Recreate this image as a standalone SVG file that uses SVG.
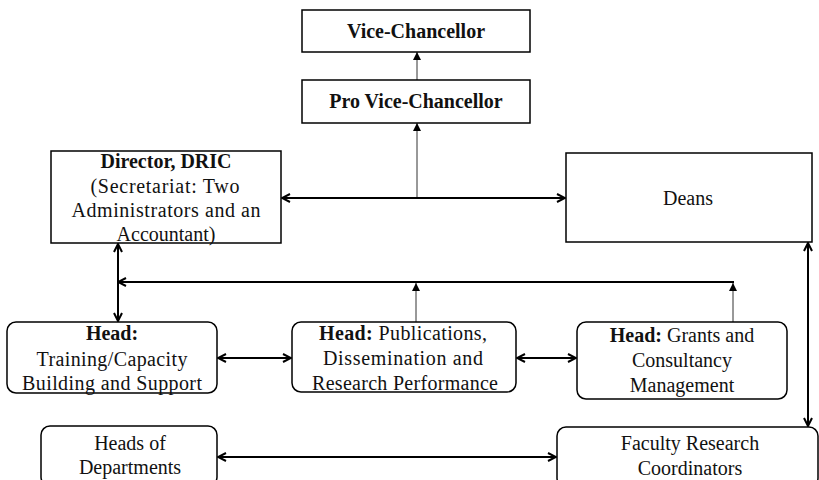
<svg xmlns="http://www.w3.org/2000/svg" width="819" height="480" viewBox="0 0 819 480">
<defs>
<style>
.box{fill:#fff;stroke:#000;stroke-width:1.5}
text{font-family:"Liberation Serif","Times New Roman",serif;font-size:20px;fill:#111;text-anchor:middle}
.b{font-weight:bold}
.thick{stroke:#000;stroke-width:2;fill:none}
.thin{stroke:#333;stroke-width:1;fill:none}
</style>
<marker id="open" viewBox="0 0 10 10" refX="9" refY="5" markerWidth="10" markerHeight="10" markerUnits="userSpaceOnUse" orient="auto-start-reverse">
<path d="M1,1 L9,5 L1,9" fill="none" stroke="#000" stroke-width="2"/>
</marker>
<marker id="fill" viewBox="0 0 8 8" refX="8" refY="4" markerWidth="8" markerHeight="8" markerUnits="userSpaceOnUse" orient="auto">
<path d="M0,0 L8,4 L0,8 Z" fill="#000"/>
</marker>
</defs>
<g id="connectors">
<line class="thin" x1="417" y1="80" x2="417" y2="52" marker-end="url(#fill)"/>
<line class="thin" x1="417" y1="198" x2="417" y2="123" marker-end="url(#fill)"/>
<line class="thick" x1="282" y1="198" x2="565" y2="198" marker-start="url(#open)" marker-end="url(#open)"/>
<line class="thick" x1="118" y1="244" x2="118" y2="321" marker-start="url(#open)" marker-end="url(#open)"/>
<line class="thick" x1="734" y1="282" x2="118" y2="282" marker-end="url(#open)"/>
<line class="thin" x1="416" y1="322" x2="416" y2="283" marker-end="url(#fill)"/>
<line class="thin" x1="733" y1="322" x2="733" y2="283" marker-end="url(#fill)" stroke="#666"/>
<line class="thick" x1="218" y1="358" x2="291" y2="358" marker-start="url(#open)" marker-end="url(#open)"/>
<line class="thick" x1="517" y1="358" x2="576" y2="358" marker-start="url(#open)" marker-end="url(#open)"/>
<line class="thick" x1="808" y1="243" x2="808" y2="426" marker-start="url(#open)" marker-end="url(#open)"/>
<line class="thick" x1="218" y1="457" x2="556" y2="457" marker-start="url(#open)" marker-end="url(#open)"/>
</g>
<g id="vc">
<rect class="box" x="302" y="10" width="228" height="42"/>
<text class="b" x="416" y="38">Vice-Chancellor</text>
</g>
<g id="pvc">
<rect class="box" x="302" y="80" width="228" height="43"/>
<text class="b" x="416" y="108">Pro Vice-Chancellor</text>
</g>
<g id="director">
<rect class="box" x="51" y="151" width="230" height="92"/>
<text class="b" x="166" y="168">Director, DRIC</text>
<text x="165" y="193" textLength="149" lengthAdjust="spacing">(Secretariat: Two</text>
<text x="166" y="217" textLength="189" lengthAdjust="spacing">Administrators and an</text>
<text x="166" y="241">Accountant)</text>
</g>
<g id="deans">
<rect class="box" x="566" y="153" width="246" height="89"/>
<text x="688" y="205">Deans</text>
</g>
<g id="training">
<rect class="box" x="7" y="322" width="210" height="71" rx="9"/>
<text class="b" x="112" y="340">Head:</text>
<text x="112" y="366" textLength="151" lengthAdjust="spacing">Training/Capacity</text>
<text x="112" y="390" textLength="180" lengthAdjust="spacing">Building and Support</text>
</g>
<g id="publications">
<rect class="box" x="292" y="322" width="224" height="70" rx="9"/>
<text x="403" y="340" textLength="168" lengthAdjust="spacing"><tspan class="b">Head:</tspan> Publications,</text>
<text x="403" y="365" textLength="160" lengthAdjust="spacing">Dissemination and</text>
<text x="405" y="390" textLength="186" lengthAdjust="spacing">Research Performance</text>
</g>
<g id="grants">
<rect class="box" x="577" y="322" width="210" height="77" rx="9"/>
<text x="682" y="342"><tspan class="b">Head:</tspan> Grants and</text>
<text x="682" y="367">Consultancy</text>
<text x="682" y="392">Management</text>
</g>
<g id="hod">
<rect class="box" x="41" y="426" width="176" height="60" rx="9"/>
<text x="130" y="450">Heads of</text>
<text x="130" y="474">Departments</text>
</g>
<g id="frc">
<rect class="box" x="557" y="427" width="261" height="60" rx="9"/>
<text x="690" y="450">Faculty Research</text>
<text x="690" y="475">Coordinators</text>
</g>
</svg>
